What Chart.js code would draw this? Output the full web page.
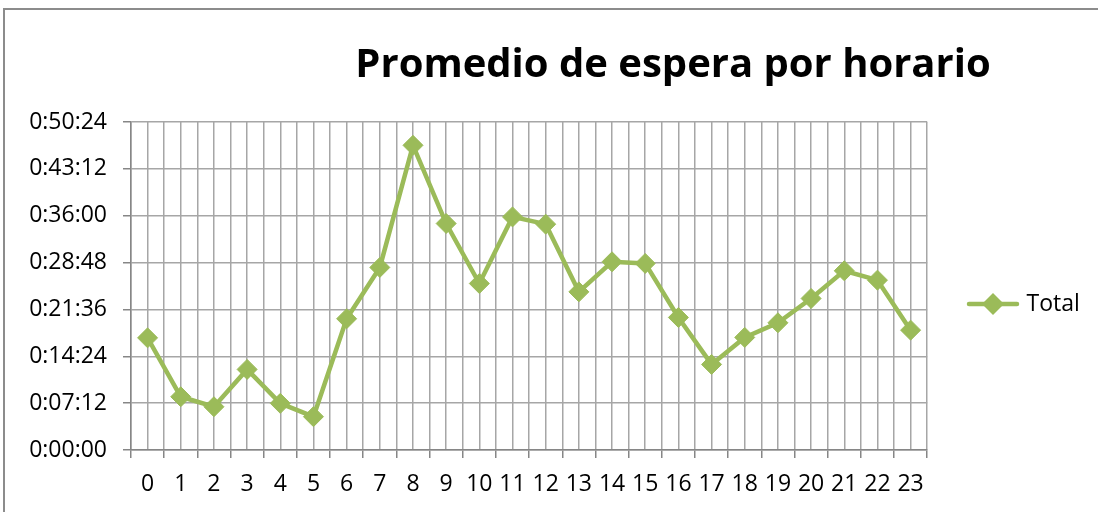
<!DOCTYPE html>
<html>
<head>
<meta charset="utf-8">
<script src="https://cdn.jsdelivr.net/npm/chart.js@4.4.1/dist/chart.umd.min.js"></script>
<style>
  html, body { margin: 0; padding: 0; background: #fff; overflow: hidden; }
  #wrap { position: relative; width: 1098px; height: 512px; }
  #frame { position: absolute; left: 3px; top: 8px; width: 1200px; height: 600px;
           border-left: 2px solid #8c8c8c; border-top: 2px solid #8c8c8c; }
  canvas { position: absolute; left: 0; top: 0; }
</style>
</head>
<body>
<div id="wrap">
  <div id="frame"></div>
  <canvas id="esperaChart" width="1098" height="512"></canvas>
</div>
<script>
// hours of the day
const horas = [0, 1, 2, 3, 4, 5, 6, 7, 8, 9, 10, 11, 12, 13, 14, 15, 16, 17, 18, 19, 20, 21, 22, 23];
// average wait, in seconds
const esperaSeg = [1034, 491, 399, 743, 430, 307, 1210, 1683, 2809, 2088, 1535, 2149, 2082, 1458,
                   1735, 1720, 1222, 789, 1038, 1173, 1397, 1652, 1566, 1105];
// y axis ticks: 0:00:00 .. 0:50:24, every 0:07:12
const yMax = 3024;
const yStep = 432;

const verde = '#9bbb59';
const FONT = '"Open Sans", "DejaVu Sans", sans-serif';

function fmtHora(v) {
    let h = Math.floor(v / 3600);
    let m = Math.floor((v % 3600) / 60);
    let s = Math.round(v % 60);
    return h + ':' + String(m).padStart(2, '0') + ':' + String(s).padStart(2, '0');
}

// legend marker: line with a diamond in the middle
function legendMarker() {
    let c = document.createElement('canvas');
    c.width = 54; c.height = 24;
    let g = c.getContext('2d');
    g.strokeStyle = verde;
    g.lineWidth = 4.5;
    g.lineCap = 'round';
    g.beginPath(); g.moveTo(3, 12); g.lineTo(51, 12); g.stroke();
    g.fillStyle = verde;
    g.beginPath(); g.moveTo(27, 1); g.lineTo(38, 12); g.lineTo(27, 23); g.lineTo(16, 12); g.closePath(); g.fill();
    return c;
}
const marker = legendMarker();

// put title and legend where they sit in the original
const placeBlocks = {
    id: 'placeBlocks',
    afterLayout(chart) {
        let t = chart.titleBlock;
        t.left = 2 * 673 - t.right;
        let lg = chart.legend;
        let w = lg.right - lg.left;
        lg.left = 961;
        lg.right = 961 + w + 20;
        lg.top += 48;
        lg.bottom += 48;
    }
};

new Chart(document.getElementById('esperaChart').getContext('2d'), {
    type: 'line',
    data: {
        datasets: [{
            label: 'Total',
            data: horas.map((h, i) => ({ x: h, y: esperaSeg[i] })),
            borderColor: verde,
            backgroundColor: verde,
            borderWidth: 4.5,
            pointStyle: 'rectRot',
            pointRadius: 10,
            pointBorderWidth: 1,
            tension: 0
        }]
    },
    options: {
        responsive: false,
        animation: false,
        layout: { padding: { left: 0, right: 42, top: 0, bottom: 0 } },
        plugins: {
            title: {
                display: true,
                text: 'Promedio de espera por horario',
                color: '#000',
                font: { family: FONT, size: 40, weight: 'bold' },
                padding: { top: 42, bottom: 32 }
            },
            legend: {
                position: 'right',
                labels: {
                    usePointStyle: true,
                    pointStyleWidth: 44,
                    color: '#000',
                    font: { family: FONT, size: 23 },
                    generateLabels: (chart) => [{
                        text: 'Total',
                        pointStyle: marker,
                        fillStyle: verde,
                        strokeStyle: verde,
                        lineWidth: 0,
                        datasetIndex: 0
                    }]
                }
            },
            tooltip: { enabled: false }
        },
        scales: {
            x: {
                type: 'linear',
                min: -0.5,
                max: 23.5,
                ticks: {
                    stepSize: 0.5,
                    autoSkip: false,
                    maxRotation: 0,
                    color: '#000',
                    padding: 13,
                    font: { family: FONT, size: 23 },
                    callback: (v) => Number.isInteger(v) ? String(v) : ''
                },
                grid: {
                    color: '#a6a6a6',
                    lineWidth: 1.5,
                    tickLength: 8,
                    tickColor: (ctx) => (ctx.tick && Number.isInteger(ctx.tick.value)) ? 'rgba(0,0,0,0)' : '#868686'
                },
                border: { color: '#868686', width: 1.5 },
                afterFit: (scale) => { scale.height = 62; }
            },
            y: {
                min: 0,
                max: yMax,
                ticks: {
                    stepSize: yStep,
                    color: '#000',
                    padding: 16,
                    font: { family: FONT, size: 23 },
                    callback: (v) => fmtHora(v)
                },
                grid: {
                    color: '#a6a6a6',
                    lineWidth: 1.5,
                    tickLength: 8,
                    tickColor: '#868686'
                },
                border: { color: '#868686', width: 1.5 },
                afterFit: (scale) => { scale.width = 131; }
            }
        }
    },
    plugins: [placeBlocks]
});
</script>
</body>
</html>
